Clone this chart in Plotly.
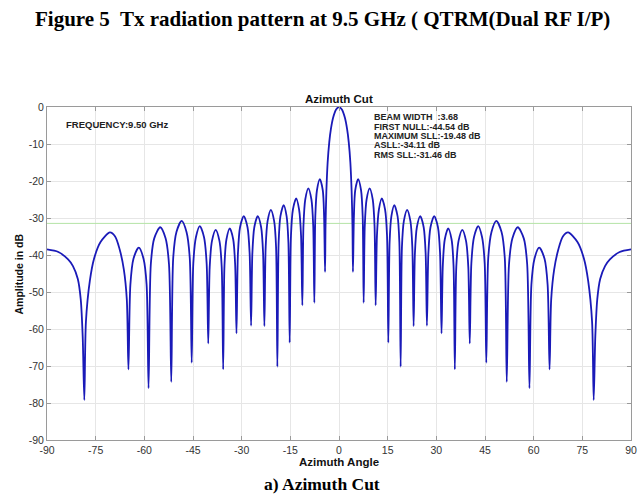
import plotly.graph_objects as go

# ---- data (right half; pattern is symmetric) ----
half_deg = [0, 0.9, 1.84, 2.5, 3.0, 3.5, 3.9, 4.15, 4.3,
            4.6, 5.0, 5.9, 6.8, 7.3, 7.6,
            7.95, 8.5, 9.45, 10.4, 10.95, 11.3,
            11.7, 12.3, 13.2, 14.2, 14.8, 15.2,
            15.6, 16.15, 17.05, 18.05, 18.6, 19.0,
            19.4, 20.0, 21.0, 22.0, 22.6, 23.0,
            23.4, 24.0, 25.05, 26.1, 26.7, 27.1,
            27.55, 28.2, 29.35, 30.5, 31.15, 31.6,
            32.0, 32.6, 33.65, 34.7, 35.3, 35.7,
            36.15, 36.85, 38.0, 39.15, 39.85, 40.3,
            40.8, 41.6, 42.9, 44.1, 44.9, 45.4,
            46.0, 47.0, 48.5, 50.1, 51.1, 51.7,
            52.4, 53.45, 55.1, 56.95, 58.0, 58.7,
            59.3, 60.25, 61.7, 63.35, 64.3, 64.9,
            65.4, 66.3, 67.6, 69.0, 70.6, 73.5, 75.5, 76.8, 78.0, 78.5,
            79.0, 79.6, 80.5, 82.0, 83.5, 86.5, 90.0]
half_db = [0, -0.7, -3.0, -6.0, -9.5, -15.0, -23.0, -32.0, -44.54,
           -29.5, -22.5, -19.48, -22.5, -29.5, -52.9,
           -32.0, -25.0, -22.0, -25.0, -32.0, -53.6,
           -34.7, -27.7, -24.7, -27.7, -34.7, -63.7,
           -36.5, -29.5, -26.5, -29.5, -36.5, -70.2,
           -37.8, -30.8, -27.8, -30.8, -37.8, -59.2,
           -39.5, -32.5, -29.5, -32.5, -39.5, -59.1,
           -39.5, -32.5, -29.5, -32.5, -39.5, -61.2,
           -42.8, -35.8, -32.8, -35.8, -42.8, -70.9,
           -43.2, -36.2, -33.2, -36.2, -43.2, -63.9,
           -42.2, -35.2, -32.2, -35.2, -42.2, -69.1,
           -40.8, -33.8, -30.8, -33.8, -40.8, -74.3,
           -42.5, -35.5, -32.5, -35.5, -42.5, -76.0,
           -48.0, -41.0, -38.0, -41.0, -48.0, -70.9,
           -52.0, -44.0, -38.5, -35.0, -33.9, -36.5, -41.0, -47.0, -58.0, -79.2,
           -62.0, -52.0, -46.5, -43.0, -41.2, -39.2, -38.5]

angle = [-a for a in reversed(half_deg[1:])] + half_deg
amp = list(reversed(half_db[1:])) + half_db

rms_sll = -31.46
x_ticks = [-90, -75, -60, -45, -30, -15, 0, 15, 30, 45, 60, 75, 90]
y_ticks = [0, -10, -20, -30, -40, -50, -60, -70, -80, -90]
info_lines = ["BEAM WIDTH  :3.68", "FIRST NULL:-44.54 dB", "MAXIMUM SLL:-19.48 dB",
              "ASLL:-34.11 dB", "RMS SLL:-31.46 dB"]
info_y = [-2.7, -5.3, -7.8, -10.4, -12.9]

fig = go.Figure()
fig.add_trace(go.Scatter(x=[x_ticks[0], x_ticks[-1]], y=[rms_sll, rms_sll], mode="lines",
                         line=dict(color="#b5e3a6", width=1), hoverinfo="skip", showlegend=False))
fig.add_trace(go.Scatter(x=angle, y=amp, mode="lines",
                         line=dict(color="#1a1ab8", width=1.8, shape="spline", smoothing=0.8),
                         showlegend=False))

axis_common = dict(showgrid=True, gridcolor="#e6e6e6", gridwidth=1, zeroline=False,
                   showline=True, linecolor="#9a9a9a", linewidth=1, mirror="ticks",
                   ticks="inside", ticklen=4, tickcolor="#9a9a9a", automargin=False,
                   tickfont=dict(family="Arial, Liberation Sans", size=10.5, color="#333333"))
fig.update_xaxes(range=[-90, 90], tickvals=x_ticks, ticktext=[str(v) for v in x_ticks], **axis_common)
fig.update_yaxes(range=[-90, 0], tickvals=y_ticks, ticktext=[str(v) for v in y_ticks], **axis_common)

ann = []
ann.append(dict(text="<b>Figure 5  Tx radiation pattern at 9.5 GHz ( QTRM(Dual RF I/P)</b>",
                xref="paper", yref="paper", x=0.471, y=1.264, yanchor="middle", showarrow=False,
                font=dict(family="Liberation Serif, Times New Roman", size=21, color="black")))
ann.append(dict(text="<b>Azimuth Cut</b>", xref="paper", yref="paper", x=0.5, y=1.024,
                yanchor="middle", showarrow=False,
                font=dict(family="Arial, Liberation Sans", size=11.5, color="#111")))
ann.append(dict(text="<b>Azimuth Angle</b>", xref="paper", yref="paper", x=0.5, y=-0.065,
                yanchor="middle", showarrow=False,
                font=dict(family="Arial, Liberation Sans", size=11.5, color="#111")))
ann.append(dict(text="<b>Amplitude in dB</b>", xref="paper", yref="paper", x=-0.048, y=0.5,
                xanchor="center", yanchor="middle",
                textangle=-90, showarrow=False,
                font=dict(family="Arial, Liberation Sans", size=10.5, color="#111")))
ann.append(dict(text="<b>a) Azimuth Cut</b>", xref="paper", yref="paper", x=0.471, y=-0.132,
                yanchor="middle", showarrow=False,
                font=dict(family="Liberation Serif, Times New Roman", size=17.5, color="black")))
ann.append(dict(text="<b>FREQUENCY:9.50 GHz</b>", xref="x", yref="y", x=-84.8, y=-4.6,
                xanchor="left", yanchor="middle", showarrow=False,
                font=dict(family="Arial, Liberation Sans", size=9.5, color="#222")))
for line, yv in zip(info_lines, info_y):
    ann.append(dict(text="<b>" + line + "</b>", xref="x", yref="y", x=10.2, y=yv,
                    xanchor="left", yanchor="middle", showarrow=False,
                    font=dict(family="Arial, Liberation Sans", size=9, color="#222")))

fig.update_layout(width=643, height=495, margin=dict(l=47, r=12, t=107, b=55),
                  paper_bgcolor="white", plot_bgcolor="white", annotations=ann)

fig.write_html("out.html")
